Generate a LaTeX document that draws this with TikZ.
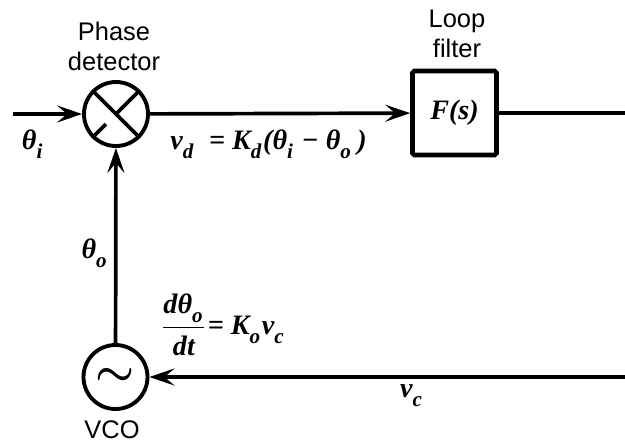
\documentclass[tikz,border=0pt]{standalone}
\usepackage{amsmath}
\usepackage{fontspec}
\setmainfont{Liberation Sans}
\newfontfamily\formulafont{Liberation Serif}
\usetikzlibrary{arrows.meta,positioning,calc}
\newcommand{\lowsub}[1]{\raisebox{-0.32em}{\fontsize{12}{12}\selectfont #1}\kern0.06em}
\tikzstyle{wire} = [line width=2.1pt]
\tikzstyle{arrow} = [wire,-{Stealth[length=5mm,width=3.4mm,inset=2mm]}]
\tikzstyle{block} = [draw,line width=2.2pt,circle,minimum size=1.28cm,inner sep=0pt]
\tikzstyle{caption} = [align=center,font=\fontsize{14.5}{17}\selectfont]
\tikzstyle{formula} = [font=\fontsize{16}{18}\formulafont\bfseries\itshape,inner sep=0pt]

\begin{document}
\begin{tikzpicture}
\useasboundingbox (0,0) rectangle (12.5,8.88);
% Blocks
\node[block] (det) at (2.32,6.6) {};
\node[block] (vco) at (2.31,1.34) {};
\node[draw,line width=2.6pt,rounded corners=1pt,minimum size=1.68cm,inner sep=0pt] (filter) at (9.09,6.62) {};
\node[formula] (fs) at (filter.center) {F(s)};

% Multiplier cross and oscillator wave
\draw[wire] (det.135) -- (det.-45);
\draw[wire] (det.45) -- (det.center);
\draw[wire] ($(det.center)!0.42!(det.-135)$) -- (det.-135);
\node[font=\fontsize{28}{28}\selectfont\boldmath,inner sep=0pt] (wave) at (vco) {$\sim$};

% Free ends
\coordinate (in) at (0.25,6.6);
\coordinate (fout) at (12.5,6.62);
\coordinate (vin) at (12.5,1.34);

% Connectors
\draw[arrow] (in) -- (det);
\draw[arrow] (det) -- (filter);
\draw[wire] (filter) -- (fout);
\draw[arrow] (vin) -- (vco);
\draw[arrow] (vco) -- (det);

% Captions
\node[caption] (detlabel) at (2.28,7.95) {Phase\\detector};
\node[caption] (filterlabel) at (9.14,8.2) {Loop\\filter};
\node[caption] (vcolabel) at (2.24,0.28) {VCO};

% Signal labels
\node[formula] (thetai) at (0.66,6.0) {θ\lowsub{i}};
\node[formula,right] (vd) at (3.4,6.0) {v\lowsub{d}\ \ = K\lowsub{d}(θ\lowsub{i}\ − θ\lowsub{o}\,)};
\node[formula] (thetao) at (1.9,3.82) {θ\lowsub{o}};
\node[formula,right] (dtheta) at (3.22,2.38) {$\dfrac{\text{dθ\lowsub{o}}}{\text{dt}}$\kern0.05em = K\lowsub{o}v\lowsub{c}};
\node[formula] (vc) at (8.24,0.96) {v\lowsub{c}};
\end{tikzpicture}
\end{document}
